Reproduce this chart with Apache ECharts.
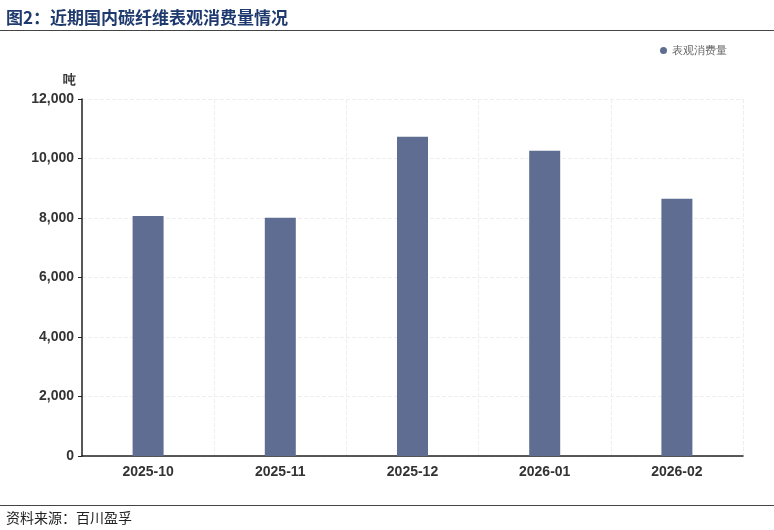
<!DOCTYPE html><html><head><meta charset="utf-8">
<script src="https://cdn.jsdelivr.net/npm/echarts@6/dist/echarts.min.js"></script>
<style>body{margin:0;background:#fff;font-family:"Noto Sans CJK SC",sans-serif}
#t{position:absolute;left:6px;top:4px;font-size:17px;font-weight:bold;color:#1f3a6e}
#l1{position:absolute;left:0;top:30px;width:774px;border-top:1.5px solid #444}
#l2{position:absolute;left:0;top:505px;width:774px;border-top:1px solid #444}
#s{position:absolute;left:6px;top:507px;font-size:14px;color:#222}
#c{position:absolute;left:0;top:0;width:774px;height:530px}</style></head><body>
<div id="c"></div><div id="t">图2：近期国内碳纤维表观消费量情况</div><div id="l1"></div><div id="l2"></div><div id="s">资料来源：百川盈孚</div>
<script>
const categories=['2025-10','2025-11','2025-12','2026-01','2026-02'];
const values=[8070,8010,10730,10260,8650];
const seriesName='表观消费量';
const ch=echarts.init(document.getElementById('c'));
ch.setOption({animation:false,
legend:{right:42,top:40,itemWidth:7,itemHeight:7,icon:'circle',itemGap:4,textStyle:{fontSize:11,color:'#666'},data:[seriesName]},
grid:{left:82,right:31,top:99,bottom:74},
xAxis:{type:'category',data:categories,axisTick:{show:false},axisLine:{lineStyle:{color:'#222',width:1.5}},
 axisLabel:{fontSize:14,fontWeight:'bold',color:'#333',margin:9},splitLine:{show:true,lineStyle:{type:'dashed',color:'#eee'}}},
yAxis:{type:'value',min:0,max:12000,interval:2000,name:'吨',nameGap:12,nameTextStyle:{fontSize:13,fontWeight:'bold',color:'#333',align:'right',padding:[0,6,0,0]},
 axisLine:{show:true,lineStyle:{color:'#222',width:1.5}},axisTick:{show:true,length:4,lineStyle:{color:'#222'}},
 axisLabel:{fontSize:14,fontWeight:'bold',color:'#333',formatter:v=>v.toLocaleString('en-US')},
 splitLine:{lineStyle:{type:'dashed',color:'#eee'}}},
series:[{name:seriesName,type:'bar',data:values,barWidth:31,itemStyle:{color:'#5e6d91'}}]});
</script></body></html>
